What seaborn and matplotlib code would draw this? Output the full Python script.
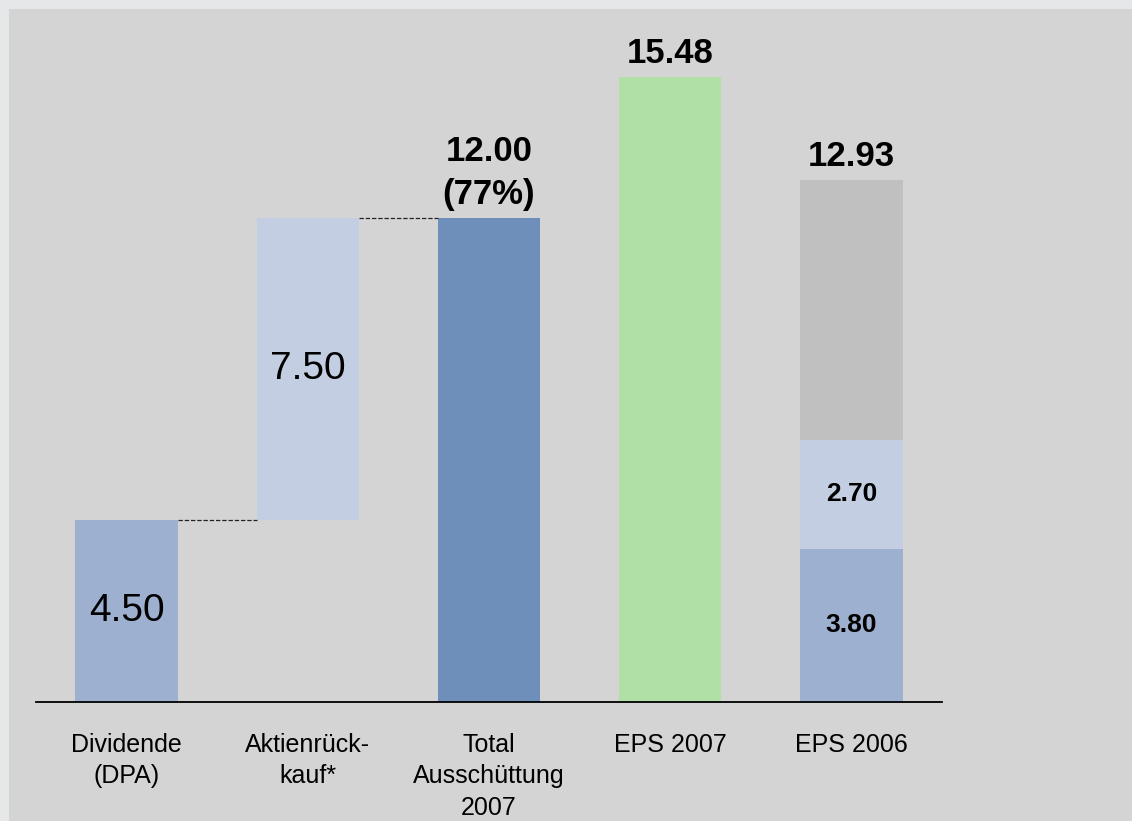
import matplotlib
matplotlib.use("Agg")
import matplotlib.pyplot as plt
import seaborn as sns
import pandas as pd
from matplotlib.patches import Rectangle

# ---------------- data ----------------
categories = ["Dividende\n(DPA)", "Aktienrück-\nkauf*", "Total\nAusschüttung\n2007",
              "EPS 2007", "EPS 2006"]
dividend = 4.50
buyback = 7.50
total_payout = 12.00
payout_pct = 77
eps_2007 = 15.48
eps_2006 = 12.93
eps_2006_parts = [3.80, 2.70]   # lower, upper segment

# ---------------- style ----------------
sns.set_style("white")
plt.rcParams["font.family"] = ["Liberation Sans", "DejaVu Sans"]
plt.rcParams["text.color"] = "black"
plt.rcParams["xtick.color"] = "black"

c_div = "#9db0cf"
c_light = "#c3cee2"
c_total = "#6f8fbb"
c_green = "#b0e0a6"
c_gray = "#c0c0c0"
c_bg = "#d4d4d4"
c_frame = "#e6e7e9"

W, H = 1132, 821
fig = plt.figure(figsize=(W / 100, H / 100), dpi=100, facecolor=c_frame)
fig.patches.append(Rectangle((9 / W, 0), 1 - 9 / W, 1 - 9 / H, transform=fig.transFigure,
                             facecolor=c_bg, edgecolor="none", zorder=-10))

ax = fig.add_axes([36 / W, 119 / H, 906 / W, 702 / H])
ax.set_facecolor("none")
bw = 0.565
bar_kw = dict(width=bw, saturation=1, linewidth=0, edgecolor="none", ax=ax)

# base bars (from zero)
base = pd.DataFrame({
    "cat": [categories[0], categories[2], categories[3], categories[4]],
    "val": [dividend, total_payout, eps_2007, eps_2006],
})
pal = {categories[0]: c_div, categories[2]: c_total, categories[3]: c_green, categories[4]: c_gray}
sns.barplot(data=base, x="cat", y="val", hue="cat", order=categories, hue_order=list(pal.keys()),
            palette=pal, dodge=False, legend=False, **bar_kw)

# EPS 2006 segments
seg = pd.DataFrame({"cat": [categories[4]], "val": [sum(eps_2006_parts)]})
sns.barplot(data=seg, x="cat", y="val", order=categories, color=c_light, **bar_kw)
seg2 = pd.DataFrame({"cat": [categories[4]], "val": [eps_2006_parts[0]]})
sns.barplot(data=seg2, x="cat", y="val", order=categories, color=c_div, **bar_kw)

# floating buyback bar
fl = pd.DataFrame({"cat": [categories[1]], "val": [buyback]})
sns.barplot(data=fl, x="cat", y="val", order=categories, color=c_light, bottom=dividend,
            **bar_kw)

# connector lines
ax.hlines(dividend, 0 + bw / 2, 1 - bw / 2, colors="#222222", linewidth=0.9,
          linestyles=(0, (3.5, 1.5)))
ax.hlines(total_payout, 1 + bw / 2, 2 - bw / 2, colors="#222222", linewidth=0.9,
          linestyles=(0, (3.5, 1.5)))

ax.set_xlim(-0.5, 4.5)
ax.set_ylim(0, 702 / 40.35)

# labels
ax.text(0, dividend / 2, f"{dividend:.2f}", ha="center", va="center", fontsize=28)
ax.text(1, dividend + buyback / 2, f"{buyback:.2f}", ha="center", va="center", fontsize=28)
ax.text(2, total_payout + 0.18, f"{total_payout:.2f}\n({payout_pct}%)", ha="center",
        va="bottom", fontsize=25, fontweight="bold", linespacing=1.35)
ax.text(3, eps_2007 + 0.18, f"{eps_2007:.2f}", ha="center", va="bottom", fontsize=25,
        fontweight="bold")
ax.text(4, eps_2006 + 0.18, f"{eps_2006:.2f}", ha="center", va="bottom", fontsize=25,
        fontweight="bold")
ax.text(4, eps_2006_parts[0] / 2, f"{eps_2006_parts[0]:.2f}", ha="center", va="center",
        fontsize=19, fontweight="bold")
ax.text(4, eps_2006_parts[0] + eps_2006_parts[1] / 2, f"{eps_2006_parts[1]:.2f}",
        ha="center", va="center", fontsize=19, fontweight="bold")

# axes styling
for s in ["top", "left", "right"]:
    ax.spines[s].set_visible(False)
ax.spines["bottom"].set_color("black")
ax.spines["bottom"].set_linewidth(1.3)
ax.set_yticks([])
ax.set_xlabel("")
ax.set_ylabel("")
ax.tick_params(axis="x", length=0, pad=22, labelsize=18, labelcolor="black")
ax.set_xticks(range(len(categories)))
ax.set_xticklabels(categories, linespacing=1.4)

fig.savefig("out.png", dpi=100, facecolor=fig.get_facecolor())
